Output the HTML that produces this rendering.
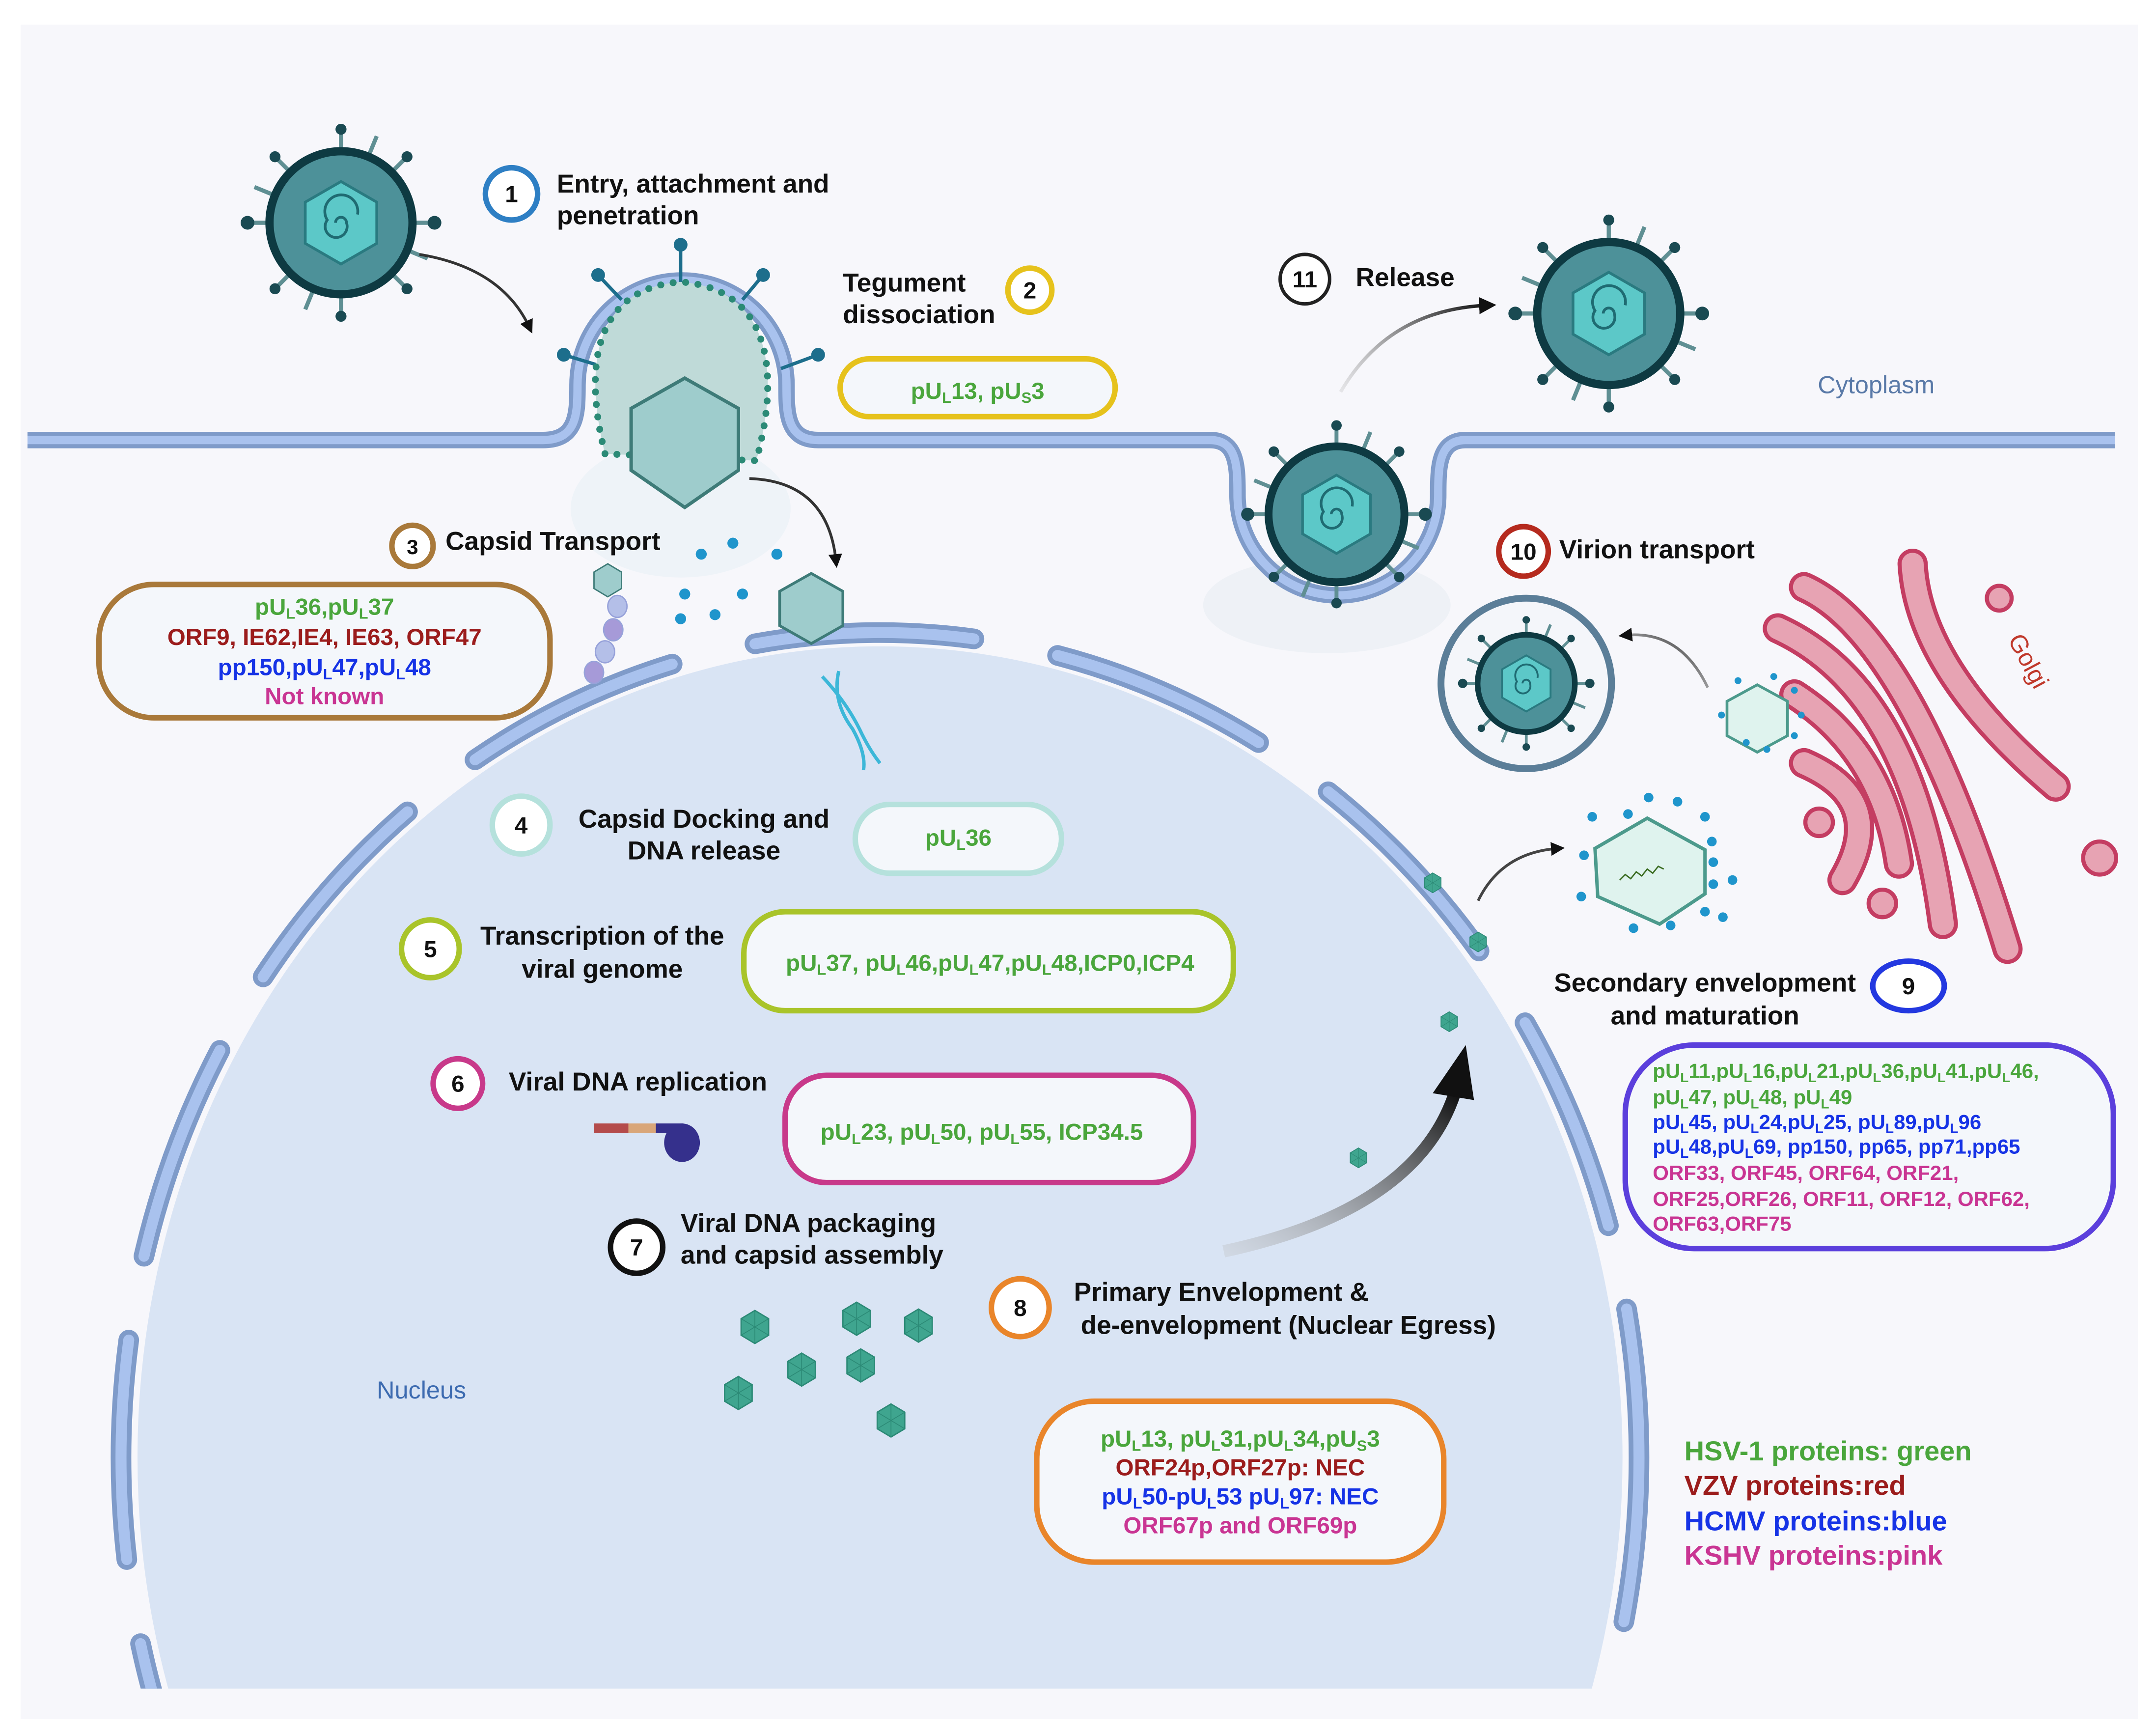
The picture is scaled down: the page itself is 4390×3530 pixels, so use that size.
<!DOCTYPE html>
<html><head><meta charset="utf-8"><style>
html,body{margin:0;padding:0;background:#fff;width:4390px;height:3530px;overflow:hidden}
svg{display:block}
text{font-family:"Liberation Sans Narrow","Liberation Sans",sans-serif;font-weight:bold}
.b{font-size:19px;fill:#111}
.n{font-size:17px;fill:#111;text-anchor:middle}
.g{fill:#4aa63c}.r{fill:#9b1c1c}.bl{fill:#1633e6}.p{fill:#c93593}
</style></head><body>
<svg width="4390" height="3530" viewBox="0 0 1568 1261" preserveAspectRatio="none" xmlns="http://www.w3.org/2000/svg">
<defs>
<clipPath id="cb"><rect x="0" y="0" width="1568" height="1228"/></clipPath>
<marker id="ah" viewBox="0 0 10 10" refX="5" refY="5" markerWidth="5" markerHeight="5" orient="auto"><path d="M0,0 L10,5 L0,10 z" fill="#111"/></marker>
<linearGradient id="ga" x1="0" y1="1" x2="1" y2="0"><stop offset="0" stop-color="#bbb" stop-opacity="0.3"/><stop offset="1" stop-color="#111"/></linearGradient>
<g id="vir">
 <g stroke="#5f8f93" stroke-width="3">
  <line x1="0" y1="-50" x2="0" y2="-68"/><line x1="0" y1="50" x2="0" y2="68"/><line x1="-50" y1="0" x2="-68" y2="0"/><line x1="50" y1="0" x2="68" y2="0"/>
  <line x1="35" y1="35" x2="48" y2="48"/><line x1="-35" y1="35" x2="-48" y2="48"/><line x1="35" y1="-35" x2="48" y2="-48"/><line x1="-35" y1="-35" x2="-48" y2="-48"/>
  <line x1="19" y1="-46" x2="26" y2="-63"/><line x1="-19" y1="46" x2="-26" y2="63"/><line x1="46" y1="19" x2="63" y2="26"/><line x1="-46" y1="-19" x2="-63" y2="-26"/>
 </g>
 <g fill="#1a4a52"><circle cx="0" cy="-68" r="4"/><circle cx="0" cy="68" r="4"/><circle cx="-68" cy="0" r="5"/><circle cx="68" cy="0" r="5"/><circle cx="48" cy="48" r="4"/><circle cx="-48" cy="48" r="4"/><circle cx="48" cy="-48" r="4"/><circle cx="-48" cy="-48" r="4"/></g>
 <circle r="52" fill="#4d9199" stroke="#0e3a42" stroke-width="6"/>
 <polygon points="0,-30 26,-15 26,15 0,30 -26,15 -26,-15" fill="#5cc8c8" stroke="#2a7a80" stroke-width="2"/>
 <path d="M0,0 m-4,0 a4,4 0 1 1 8,0 a8,8 0 1 1 -14,-2 a12,12 0 1 1 22,-4" fill="none" stroke="#1f6b72" stroke-width="2"/>
</g>
<g id="cap"><polygon points="0,-12 10,-6 10,6 0,12 -10,6 -10,-6" fill="#3fa58f" stroke="#2c8a76" stroke-width="1"/><path d="M0,-12 L0,12 M-10,-6 L10,6 M10,-6 L-10,6" stroke="#2c8a76" stroke-width="0.6"/></g>
</defs>
<rect width="1568" height="1261" fill="#fff"/>
<rect x="15" y="18" width="1540" height="1232" fill="#f7f7fb"/>
<!-- nucleus -->
<g clip-path="url(#cb)">
<ellipse cx="640" cy="1060" rx="540" ry="590" fill="#d9e4f4"/>
<ellipse cx="640" cy="1060" rx="552" ry="600" fill="none" stroke="#7f9bc9" stroke-width="15" stroke-dasharray="160 62" stroke-dashoffset="40" stroke-linecap="round"/>
<ellipse cx="640" cy="1060" rx="552" ry="600" fill="none" stroke="#a9c2ee" stroke-width="8" stroke-dasharray="160 62" stroke-dashoffset="40" stroke-linecap="round"/>
</g>
<ellipse cx="495" cy="370" rx="80" ry="50" fill="#eef3f8"/>
<ellipse cx="965" cy="440" rx="90" ry="35" fill="#eef1f6"/>
<!-- plasma membrane -->
<path d="M20,320 L395,320 C420,320 420,300 420,280 A76,76 0 1 1 572,280 C572,300 572,320 595,320 L880,320 C900,320 900,340 900,360 A73,73 0 0 0 1046,360 C1046,340 1046,320 1066,320 L1538,320" fill="none" stroke="#7f9bc9" stroke-width="12"/>
<path d="M20,320 L395,320 C420,320 420,300 420,280 A76,76 0 1 1 572,280 C572,300 572,320 595,320 L880,320 C900,320 900,340 900,360 A73,73 0 0 0 1046,360 C1046,340 1046,320 1066,320 L1538,320" fill="none" stroke="#a9c2ee" stroke-width="6"/>
<!-- entry vesicle -->
<g stroke="#1d6e8c" stroke-width="2.5"><line x1="495" y1="178" x2="495" y2="205"/><line x1="555" y1="200" x2="540" y2="218"/><line x1="435" y1="200" x2="452" y2="218"/><line x1="410" y1="258" x2="433" y2="265"/><line x1="595" y1="258" x2="568" y2="268"/></g>
<g fill="#1d6e8c"><circle cx="495" cy="178" r="5"/><circle cx="555" cy="200" r="5"/><circle cx="435" cy="200" r="5"/><circle cx="410" cy="258" r="5"/><circle cx="595" cy="258" r="5"/></g>
<path d="M440,330 C425,270 430,210 495,205 C560,210 568,270 550,335 Z" fill="#bfdad8" stroke="#2b8a76" stroke-width="5" stroke-dasharray="0.1 9" stroke-linecap="round"/>
<polygon points="498,275 537,297 537,342 498,369 459,342 459,297" fill="#9ecccc" stroke="#3e7b78" stroke-width="2.5"/>
<!-- viruses -->
<use href="#vir" transform="translate(248,162)"/>
<use href="#vir" transform="translate(1170,228)"/>
<use href="#vir" transform="translate(972,374) scale(0.95)"/>
<circle cx="1110" cy="497" r="62" fill="#f4f6fa" stroke="#5b7e98" stroke-width="5"/>
<use href="#vir" transform="translate(1110,497) scale(0.68)"/>
<!-- arrows -->
<path d="M305,185 Q365,195 385,238" fill="none" stroke="#333" stroke-width="2" marker-end="url(#ah)"/>
<path d="M545,348 Q602,350 608,408" fill="none" stroke="#333" stroke-width="2" marker-end="url(#ah)"/>
<path d="M975,285 Q1010,225 1082,222" fill="none" stroke="url(#ga)" stroke-width="2.5" marker-end="url(#ah)"/>
<path d="M1242,500 Q1222,458 1182,462" fill="none" stroke="url(#ga)" stroke-width="2" marker-end="url(#ah)"/>
<path d="M1075,655 Q1092,620 1133,617" fill="none" stroke="#444" stroke-width="2" marker-end="url(#ah)"/>
<path d="M890,910 Q1030,880 1058,795" fill="none" stroke="url(#ga)" stroke-width="9"/>
<polygon points="1042,795 1072,800 1066,760" fill="#111"/>
<!-- capsid transport -->
<polygon points="442,410 452,416 452,428 442,434 432,428 432,416" fill="#9ecccc" stroke="#3e7b78"/>
<g fill="#b4bfe8" stroke="#97a2da"><ellipse cx="449" cy="441" rx="7" ry="8"/><ellipse cx="446" cy="458" rx="7" ry="8" fill="#a69ad8"/><ellipse cx="440" cy="474" rx="7" ry="8"/><ellipse cx="432" cy="489" rx="7" ry="8" fill="#a69ad8"/></g>
<polygon points="590,417 613,430 613,455 590,468 567,455 567,430" fill="#9ecccc" stroke="#3e7b78" stroke-width="2"/>
<g fill="#1f95cc"><circle cx="510" cy="403" r="4"/><circle cx="533" cy="395" r="4"/><circle cx="565" cy="403" r="4"/><circle cx="498" cy="432" r="4"/><circle cx="540" cy="432" r="4"/><circle cx="495" cy="450" r="4"/><circle cx="520" cy="447" r="4"/></g>
<path d="M598,492 Q615,510 625,530 Q632,545 640,555 M610,488 Q605,510 620,530 Q630,548 628,560" fill="none" stroke="#3cb7d8" stroke-width="2.5"/>
<!-- replication motif -->
<rect x="432" y="817" width="25" height="7" fill="#b44b4b"/><rect x="457" y="817" width="20" height="7" fill="#d9a679"/><rect x="477" y="817" width="20" height="7" fill="#35308c"/><ellipse cx="496" cy="831" rx="13" ry="14" fill="#35308c"/>
<!-- small capsids -->
<use href="#cap" transform="translate(549,965)"/><use href="#cap" transform="translate(623,959)"/><use href="#cap" transform="translate(668,964)"/><use href="#cap" transform="translate(583,996)"/><use href="#cap" transform="translate(626,993)"/><use href="#cap" transform="translate(537,1013)"/><use href="#cap" transform="translate(648,1033)"/>
<use href="#cap" transform="translate(988,842) scale(0.6)"/><use href="#cap" transform="translate(1054,743) scale(0.6)"/><use href="#cap" transform="translate(1075,685) scale(0.6)"/><use href="#cap" transform="translate(1042,642) scale(0.6)"/>
<!-- golgi -->
<g fill="none" stroke-linecap="round">
<g stroke="#c43d62" stroke-width="22">
<path d="M1312,427 Q1390,462 1460,690"/><path d="M1391,410 Q1395,487 1495,572"/><path d="M1293,457 Q1391,502 1413,672"/><path d="M1305,505 Q1369,546 1381,628"/><path d="M1312,555 Q1374,582 1340,640"/>
</g>
<g stroke="#e7a3b3" stroke-width="16">
<path d="M1312,427 Q1390,462 1460,690"/><path d="M1391,410 Q1395,487 1495,572"/><path d="M1293,457 Q1391,502 1413,672"/><path d="M1305,505 Q1369,546 1381,628"/><path d="M1312,555 Q1374,582 1340,640"/>
</g></g>
<g fill="#e7a3b3" stroke="#c43d62" stroke-width="3"><circle cx="1454" cy="435" r="9"/><circle cx="1323" cy="598" r="10"/><circle cx="1527" cy="624" r="12"/><circle cx="1369" cy="657" r="10"/></g>
<text x="1460" y="465" transform="rotate(62 1460 465)" style="font-weight:normal;font-size:18px;fill:#c0392b">Golgi</text>
<polygon points="1278,498 1300,510 1300,535 1278,547 1256,535 1256,510" fill="#dff3ee" stroke="#4c9a8c" stroke-width="2"/>
<g fill="#1f95cc"><circle cx="1264" cy="495" r="2.5"/><circle cx="1290" cy="492" r="2.5"/><circle cx="1305" cy="502" r="2.5"/><circle cx="1310" cy="520" r="2.5"/><circle cx="1252" cy="520" r="2.5"/><circle cx="1270" cy="540" r="2.5"/><circle cx="1285" cy="545" r="2.5"/><circle cx="1305" cy="535" r="2.5"/></g>
<polygon points="1198,595 1240,618 1240,650 1207,672 1162,652 1160,617" fill="#dff3ee" stroke="#4c9a8c" stroke-width="2.5"/>
<path d="M1178,640 l4,-4 4,3 4,-5 4,3 4,-5 4,3 4,-5 4,2" fill="none" stroke="#3a6b20" stroke-width="1"/>
<g fill="#1f95cc"><circle cx="1199" cy="580" r="3.5"/><circle cx="1220" cy="583" r="3.5"/><circle cx="1158" cy="594" r="3.5"/><circle cx="1184" cy="592" r="3.5"/><circle cx="1240" cy="594" r="3.5"/><circle cx="1245" cy="612" r="3.5"/><circle cx="1246" cy="627" r="3.5"/><circle cx="1246" cy="643" r="3.5"/><circle cx="1152" cy="622" r="3.5"/><circle cx="1260" cy="640" r="3.5"/><circle cx="1150" cy="652" r="3.5"/><circle cx="1240" cy="663" r="3.5"/><circle cx="1253" cy="667" r="3.5"/><circle cx="1188" cy="675" r="3.5"/><circle cx="1215" cy="673" r="3.5"/></g>
<!-- boxes -->
<g stroke-width="4" fill="#f4f7fb">
<rect x="611" y="261" width="200" height="42" rx="21" stroke="#e6c21c"/>
<rect x="72" y="425" width="328" height="97" rx="40" stroke="#a9793a"/>
<rect x="622" y="585" width="150" height="50" rx="25" stroke="#b5e1dc"/>
<rect x="541" y="663" width="356" height="72" rx="30" stroke="#a9c42a"/>
<rect x="571" y="782" width="297" height="78" rx="30" stroke="#c8398a"/>
<rect x="754" y="1019" width="296" height="117" rx="42" stroke="#e9852a"/>
<rect x="1182" y="760" width="355" height="148" rx="50" stroke="#5b3fdc"/>
</g>
<!-- number circles -->
<g fill="#fff" stroke-width="4">
<circle cx="372" cy="141" r="19" stroke="#2e7fc4"/><circle cx="749" cy="211" r="16" stroke="#e6c21c"/><circle cx="300" cy="397" r="15" stroke="#a9793a"/><circle cx="379" cy="600" r="21" stroke="#b5e1dc"/><circle cx="313" cy="690" r="21" stroke="#a9c42a"/><circle cx="333" cy="788" r="18" stroke="#c8398a"/><circle cx="463" cy="907" r="19" stroke="#111"/><circle cx="742" cy="951" r="21" stroke="#e9852a"/><ellipse cx="1388" cy="717" rx="26" ry="18" stroke="#2338e0"/><circle cx="1108" cy="401" r="18" stroke="#b52a1e"/><circle cx="949" cy="203" r="18" stroke="#222" stroke-width="2.5"/>
</g>
<g class="n"><text x="372" y="147">1</text><text x="749" y="217">2</text><text x="300" y="403" style="font-size:15px">3</text><text x="379" y="606">4</text><text x="313" y="696">5</text><text x="333" y="794">6</text><text x="463" y="913">7</text><text x="742" y="957">8</text><text x="1388" y="723">9</text><text x="1108" y="407">10</text><text x="949" y="209">11</text></g>
<!-- labels -->
<g class="b">
<text x="405" y="140">Entry, attachment and</text><text x="405" y="163">penetration</text>
<text x="613" y="212">Tegument</text><text x="613" y="235">dissociation</text>
<text x="324" y="400">Capsid Transport</text>
<text x="512" y="602" text-anchor="middle">Capsid Docking and</text><text x="512" y="625" text-anchor="middle">DNA release</text>
<text x="438" y="687" text-anchor="middle">Transcription of the</text><text x="438" y="711" text-anchor="middle">viral genome</text>
<text x="370" y="793">Viral DNA replication</text>
<text x="495" y="896">Viral DNA packaging</text><text x="495" y="919">and capsid assembly</text>
<text x="781" y="946">Primary Envelopment &amp;</text><text x="786" y="970">de-envelopment (Nuclear Egress)</text>
<text x="1240" y="721" text-anchor="middle">Secondary envelopment</text><text x="1240" y="745" text-anchor="middle">and maturation</text>
<text x="1134" y="406">Virion transport</text>
<text x="986" y="208">Release</text>
</g>
<text x="1322" y="286" style="font-weight:normal;font-size:18px;fill:#5a7aa8">Cytoplasm</text>
<text x="274" y="1017" style="font-weight:normal;font-size:18px;fill:#3d6bb0">Nucleus</text>
<!-- box texts -->
<g style="font-size:17px" text-anchor="middle">
<text x="711" y="290" class="g">pU<tspan font-size="11" dy="3">L</tspan><tspan dy="-3">13, pU</tspan><tspan font-size="11" dy="3">S</tspan><tspan dy="-3">3</tspan></text>
<text x="236" y="447" class="g">pU<tspan font-size="11" dy="3">L</tspan><tspan dy="-3">36,pU</tspan><tspan font-size="11" dy="3">L</tspan><tspan dy="-3">37</tspan></text>
<text x="236" y="469" class="r">ORF9, IE62,IE4, IE63, ORF47</text>
<text x="236" y="491" class="bl">pp150,pU<tspan font-size="11" dy="3">L</tspan><tspan dy="-3">47,pU</tspan><tspan font-size="11" dy="3">L</tspan><tspan dy="-3">48</tspan></text>
<text x="236" y="512" class="p">Not known</text>
<text x="697" y="615" class="g">pU<tspan font-size="11" dy="3">L</tspan><tspan dy="-3">36</tspan></text>
<text x="720" y="706" class="g">pU<tspan font-size="11" dy="3">L</tspan><tspan dy="-3">37, pU</tspan><tspan font-size="11" dy="3">L</tspan><tspan dy="-3">46,pU</tspan><tspan font-size="11" dy="3">L</tspan><tspan dy="-3">47,pU</tspan><tspan font-size="11" dy="3">L</tspan><tspan dy="-3">48,ICP0,ICP4</tspan></text>
<text x="714" y="829" class="g">pU<tspan font-size="11" dy="3">L</tspan><tspan dy="-3">23, pU</tspan><tspan font-size="11" dy="3">L</tspan><tspan dy="-3">50, pU</tspan><tspan font-size="11" dy="3">L</tspan><tspan dy="-3">55, ICP34.5</tspan></text>
<text x="902" y="1052" class="g">pU<tspan font-size="11" dy="3">L</tspan><tspan dy="-3">13, pU</tspan><tspan font-size="11" dy="3">L</tspan><tspan dy="-3">31,pU</tspan><tspan font-size="11" dy="3">L</tspan><tspan dy="-3">34,pU</tspan><tspan font-size="11" dy="3">S</tspan><tspan dy="-3">3</tspan></text>
<text x="902" y="1073" class="r">ORF24p,ORF27p: NEC</text>
<text x="902" y="1094" class="bl">pU<tspan font-size="11" dy="3">L</tspan><tspan dy="-3">50-pU</tspan><tspan font-size="11" dy="3">L</tspan><tspan dy="-3">53 pU</tspan><tspan font-size="11" dy="3">L</tspan><tspan dy="-3">97: NEC</tspan></text>
<text x="902" y="1115" class="p">ORF67p and ORF69p</text>
</g>
<g style="font-size:15px">
<text x="1202" y="784" class="g">pU<tspan font-size="10" dy="3">L</tspan><tspan dy="-3">11,pU</tspan><tspan font-size="10" dy="3">L</tspan><tspan dy="-3">16,pU</tspan><tspan font-size="10" dy="3">L</tspan><tspan dy="-3">21,pU</tspan><tspan font-size="10" dy="3">L</tspan><tspan dy="-3">36,pU</tspan><tspan font-size="10" dy="3">L</tspan><tspan dy="-3">41,pU</tspan><tspan font-size="10" dy="3">L</tspan><tspan dy="-3">46,</tspan></text>
<text x="1202" y="803" class="g">pU<tspan font-size="10" dy="3">L</tspan><tspan dy="-3">47, pU</tspan><tspan font-size="10" dy="3">L</tspan><tspan dy="-3">48, pU</tspan><tspan font-size="10" dy="3">L</tspan><tspan dy="-3">49</tspan></text>
<text x="1202" y="821" class="bl">pU<tspan font-size="10" dy="3">L</tspan><tspan dy="-3">45,  pU</tspan><tspan font-size="10" dy="3">L</tspan><tspan dy="-3">24,pU</tspan><tspan font-size="10" dy="3">L</tspan><tspan dy="-3">25, pU</tspan><tspan font-size="10" dy="3">L</tspan><tspan dy="-3">89,pU</tspan><tspan font-size="10" dy="3">L</tspan><tspan dy="-3">96</tspan></text>
<text x="1202" y="839" class="bl">pU<tspan font-size="10" dy="3">L</tspan><tspan dy="-3">48,pU</tspan><tspan font-size="10" dy="3">L</tspan><tspan dy="-3">69, pp150, pp65, pp71,pp65</tspan></text>
<text x="1202" y="858" class="p">ORF33, ORF45, ORF64, ORF21,</text>
<text x="1202" y="877" class="p">ORF25,ORF26, ORF11, ORF12, ORF62,</text>
<text x="1202" y="895" class="p">ORF63,ORF75</text>
</g>
<g style="font-size:20px">
<text x="1225" y="1062" class="g">HSV-1 proteins: green</text>
<text x="1225" y="1087" class="r">VZV proteins:red</text>
<text x="1225" y="1113" class="bl">HCMV proteins:blue</text>
<text x="1225" y="1138" class="p">KSHV proteins:pink</text>
</g>
</svg>
</body></html>
